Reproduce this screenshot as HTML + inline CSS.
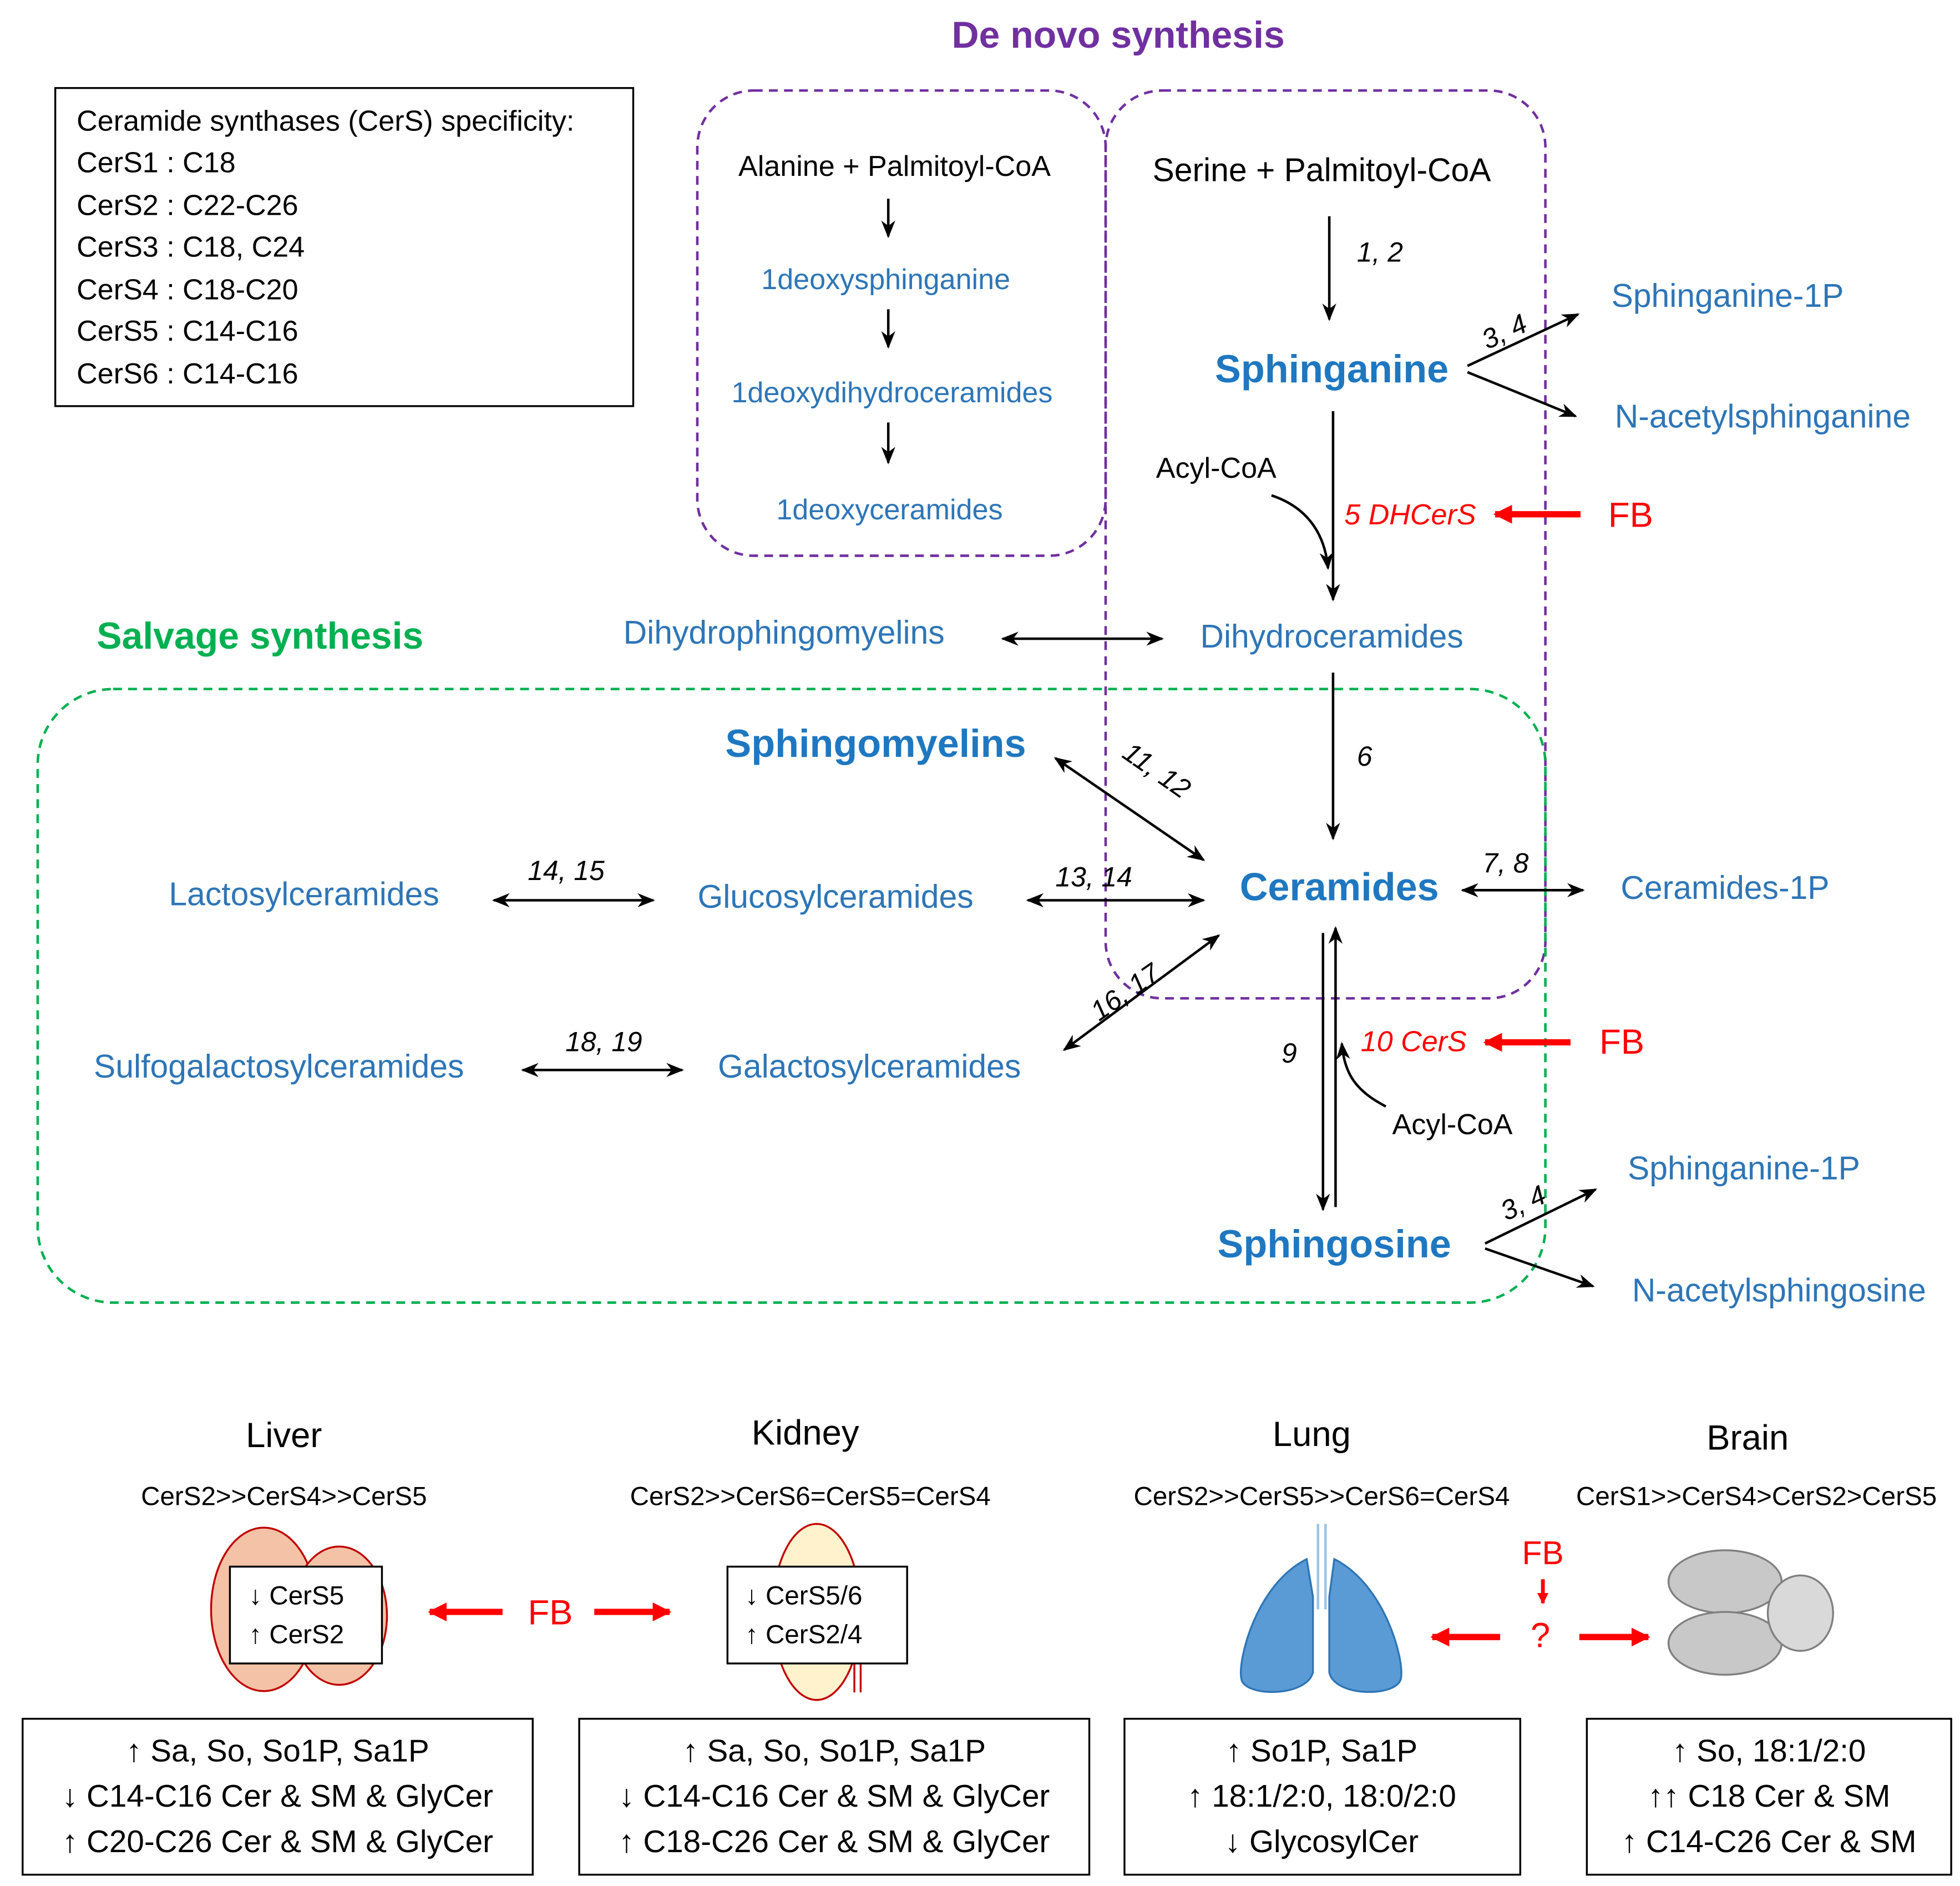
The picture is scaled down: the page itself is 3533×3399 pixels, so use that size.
<!DOCTYPE html>
<html><head><meta charset="utf-8"><style>html,body{margin:0;padding:0;background:#fff}svg{display:block}text{font-family:"Liberation Sans",sans-serif}</style></head><body>
<svg width="3533" height="3399" viewBox="0 0 1560 1500" preserveAspectRatio="none" xmlns="http://www.w3.org/2000/svg">
<defs>
<marker id="a" viewBox="0 0 10 10" refX="9" refY="5" markerWidth="7" markerHeight="7" orient="auto-start-reverse"><path d="M0,1 L10,5 L0,9 L3,5z" fill="#000"/></marker>
<marker id="r" viewBox="0 0 10 10" refX="9" refY="5" markerWidth="3" markerHeight="3" orient="auto"><path d="M0,0 L10,5 L0,10z" fill="#f00"/></marker>
</defs>
<rect width="1560" height="1500" fill="#fff"/>
<text x="890" y="38" font-size="30" font-weight="bold" fill="#7030a0" text-anchor="middle">De novo synthesis</text>
<rect x="44" y="70" width="460" height="253" fill="none" stroke="#000" stroke-width="1.5"/>
<g font-size="23" fill="#000">
<text x="61" y="104">Ceramide synthases (CerS) specificity:</text>
<text x="61" y="137">CerS1 : C18</text><text x="61" y="171">CerS2 : C22-C26</text>
<text x="61" y="204">CerS3 : C18, C24</text><text x="61" y="238">CerS4 : C18-C20</text>
<text x="61" y="271">CerS5 : C14-C16</text><text x="61" y="305">CerS6 : C14-C16</text></g>
<g fill="none" stroke-dasharray="7,5" stroke-width="2">
<rect x="555" y="72" width="325" height="370" rx="45" stroke="#7030a0"/>
<rect x="880" y="72" width="350" height="722" rx="45" stroke="#7030a0"/>
<rect x="30" y="548" width="1200" height="488" rx="60" stroke="#00b050"/>
</g>
<g font-size="23" fill="#000" text-anchor="middle">
<text x="712" y="140">Alanine + Palmitoyl-CoA</text>
<text x="1052" y="144" font-size="26">Serine + Palmitoyl-CoA</text>
<text x="968" y="380">Acyl-CoA</text>
<text x="1156" y="902">Acyl-CoA</text>
</g>
<g fill="#2e75b6" font-size="23" text-anchor="middle">
<text x="705" y="230">1deoxysphinganine</text>
<text x="710" y="320">1deoxydihydroceramides</text>
<text x="708" y="413">1deoxyceramides</text>
<text x="1375" y="244" font-size="26">Sphinganine-1P</text>
<text x="1403" y="340" font-size="26">N-acetylsphinganine</text>
<text x="624" y="512" font-size="26">Dihydrophingomyelins</text>
<text x="1060" y="515" font-size="26">Dihydroceramides</text>
<text x="242" y="720" font-size="26">Lactosylceramides</text>
<text x="665" y="722" font-size="26">Glucosylceramides</text>
<text x="222" y="857" font-size="26">Sulfogalactosylceramides</text>
<text x="692" y="857" font-size="26">Galactosylceramides</text>
<text x="1373" y="715" font-size="26">Ceramides-1P</text>
<text x="1388" y="938" font-size="26">Sphinganine-1P</text>
<text x="1416" y="1035" font-size="26">N-acetylsphingosine</text>
</g>
<g fill="#1f77c0" font-size="31" font-weight="bold" text-anchor="middle">
<text x="1060" y="304">Sphinganine</text>
<text x="697" y="602">Sphingomyelins</text>
<text x="1066" y="716">Ceramides</text>
<text x="1062" y="1000">Sphingosine</text>
</g>
<text x="207" y="516" font-size="30" font-weight="bold" fill="#00b050" text-anchor="middle">Salvage synthesis</text>
<g font-size="22" font-style="italic" fill="#000">
<text x="1080" y="208">1, 2</text>
<text x="1178" y="272" transform="rotate(-25 1195 262)">3, 4</text>
<text x="1080" y="609">6</text>
<text x="880" y="620" transform="rotate(35 915 630)">11, 12</text>
<text x="1180" y="694">7, 8</text>
<text x="840" y="705">13, 14</text>
<text x="420" y="700">14, 15</text>
<text x="855" y="800" transform="rotate(-35 885 775)">16, 17</text>
<text x="450" y="836">18, 19</text>
<text x="1020" y="845">9</text>
<text x="1193" y="965" transform="rotate(-25 1210 955)">3, 4</text>
</g>
<g font-size="23" font-style="italic" fill="#f00">
<text x="1070" y="417">5 DHCerS</text>
<text x="1083" y="836">10 CerS</text>
</g>
<g font-size="28" fill="#f00"><text x="1280" y="419">FB</text><text x="1273" y="838">FB</text></g>
<g stroke="#f00" stroke-width="5" fill="none">
<line x1="1258" y1="409" x2="1190" y2="409" marker-end="url(#r)"/>
<line x1="1250" y1="829" x2="1182" y2="829" marker-end="url(#r)"/>
</g>
<g stroke="#000" stroke-width="2" fill="none" marker-end="url(#a)">
<line x1="707" y1="158" x2="707" y2="188"/>
<line x1="707" y1="246" x2="707" y2="276"/>
<line x1="707" y1="336" x2="707" y2="368"/>
<line x1="1058" y1="172" x2="1058" y2="254"/>
<line x1="1168" y1="291" x2="1256" y2="250"/>
<line x1="1168" y1="296" x2="1254" y2="331"/>
<line x1="1061" y1="327" x2="1061" y2="477"/>
<path d="M1012,394 C1045,405 1055,430 1057,452"/>
<line x1="798" y1="508" x2="925" y2="508" marker-start="url(#a)"/>
<line x1="1061" y1="535" x2="1061" y2="667"/>
<line x1="840" y1="603" x2="958" y2="684" marker-start="url(#a)"/>
<line x1="818" y1="716" x2="958" y2="716" marker-start="url(#a)"/>
<line x1="393" y1="716" x2="520" y2="716" marker-start="url(#a)"/>
<line x1="847" y1="835" x2="970" y2="744" marker-start="url(#a)"/>
<line x1="416" y1="851" x2="543" y2="851" marker-start="url(#a)"/>
<line x1="1164" y1="708" x2="1260" y2="708" marker-start="url(#a)"/>
<line x1="1053" y1="742" x2="1053" y2="962"/>
<line x1="1063" y1="960" x2="1063" y2="738"/>
<path d="M1103,880 C1080,868 1070,855 1068,830"/>
<line x1="1182" y1="989" x2="1270" y2="946"/>
<line x1="1182" y1="993" x2="1268" y2="1023"/>
</g>
<!-- bottom -->
<g font-size="28" fill="#000" text-anchor="middle">
<text x="226" y="1151">Liver</text><text x="641" y="1149">Kidney</text>
<text x="1044" y="1150">Lung</text><text x="1391" y="1153">Brain</text>
</g>
<g font-size="21" fill="#000" text-anchor="middle">
<text x="226" y="1197">CerS2&gt;&gt;CerS4&gt;&gt;CerS5</text>
<text x="645" y="1197">CerS2&gt;&gt;CerS6=CerS5=CerS4</text>
<text x="1052" y="1197">CerS2&gt;&gt;CerS5&gt;&gt;CerS6=CerS4</text>
<text x="1398" y="1197">CerS1&gt;&gt;CerS4&gt;CerS2&gt;CerS5</text>
</g>
<!-- liver -->
<g fill="#f4c2a6" stroke="#c00000" stroke-width="1.5">
<ellipse cx="210" cy="1280" rx="42" ry="65"/><ellipse cx="270" cy="1285" rx="38" ry="55"/>
</g>
<rect x="183" y="1246" width="121" height="77" fill="#fff" stroke="#000" stroke-width="1.5"/>
<g font-size="21" fill="#000"><text x="198" y="1276">↓ CerS5</text><text x="198" y="1307">↑ CerS2</text></g>
<!-- kidney -->
<ellipse cx="650" cy="1282" rx="35" ry="70" fill="#fff2cc" stroke="#c00000" stroke-width="1.5"/>
<line x1="680" y1="1320" x2="680" y2="1346" stroke="#c00000" stroke-width="1.5"/><line x1="685" y1="1320" x2="685" y2="1346" stroke="#c00000" stroke-width="1.5"/>
<rect x="579" y="1246" width="143" height="77" fill="#fff" stroke="#000" stroke-width="1.5"/>
<g font-size="21" fill="#000"><text x="593" y="1276">↓ CerS5/6</text><text x="593" y="1307">↑ CerS2/4</text></g>
<text x="438" y="1292" font-size="28" fill="#f00" text-anchor="middle">FB</text>
<g stroke="#f00" stroke-width="5"><line x1="400" y1="1282" x2="342" y2="1282" marker-end="url(#r)"/><line x1="473" y1="1282" x2="533" y2="1282" marker-end="url(#r)"/></g>
<!-- lung -->
<g fill="#5b9bd5" stroke="#2e75b6" stroke-width="1.5">
<path d="M1040,1240 C1000,1260 985,1320 988,1335 C990,1350 1040,1350 1045,1330 L1045,1270 Z"/>
<path d="M1062,1240 C1102,1260 1118,1320 1115,1335 C1112,1350 1062,1350 1058,1330 L1058,1270 Z"/>
</g>
<g stroke="#9dc3e6" stroke-width="2"><line x1="1049" y1="1212" x2="1049" y2="1280"/><line x1="1055" y1="1212" x2="1055" y2="1280"/></g>
<text x="1228" y="1244" font-size="26" fill="#f00" text-anchor="middle">FB</text>
<line x1="1228" y1="1256" x2="1228" y2="1275" stroke="#f00" stroke-width="3" marker-end="url(#r)"/>
<text x="1226" y="1310" font-size="28" fill="#f00" text-anchor="middle">?</text>
<g stroke="#f00" stroke-width="5"><line x1="1194" y1="1302" x2="1140" y2="1302" marker-end="url(#r)"/><line x1="1257" y1="1302" x2="1312" y2="1302" marker-end="url(#r)"/></g>
<!-- brain -->
<g fill="#c8c8c8" stroke="#808080" stroke-width="1.5">
<ellipse cx="1373" cy="1258" rx="45" ry="25"/><ellipse cx="1373" cy="1307" rx="45" ry="25"/>
<ellipse cx="1433" cy="1283" rx="26" ry="30" fill="#d9d9d9"/>
</g>
<g fill="#fff" stroke="#000" stroke-width="1.5">
<rect x="18" y="1367" width="406" height="124"/><rect x="461" y="1367" width="406" height="124"/>
<rect x="895" y="1367" width="315" height="124"/><rect x="1263" y="1367" width="290" height="124"/>
</g>
<g font-size="25" fill="#000" text-anchor="middle">
<text x="221" y="1401">↑ Sa, So, So1P, Sa1P</text><text x="221" y="1437">↓ C14-C16 Cer &amp; SM &amp; GlyCer</text><text x="221" y="1473">↑ C20-C26 Cer &amp; SM &amp; GlyCer</text>
<text x="664" y="1401">↑ Sa, So, So1P, Sa1P</text><text x="664" y="1437">↓ C14-C16 Cer &amp; SM &amp; GlyCer</text><text x="664" y="1473">↑ C18-C26 Cer &amp; SM &amp; GlyCer</text>
<text x="1052" y="1401">↑ So1P, Sa1P</text><text x="1052" y="1437">↑ 18:1/2:0, 18:0/2:0</text><text x="1052" y="1473">↓ GlycosylCer</text>
<text x="1408" y="1401">↑ So, 18:1/2:0</text><text x="1408" y="1437">↑↑ C18 Cer &amp; SM</text><text x="1408" y="1473">↑ C14-C26 Cer &amp; SM</text>
</g>
</svg>
</body></html>
